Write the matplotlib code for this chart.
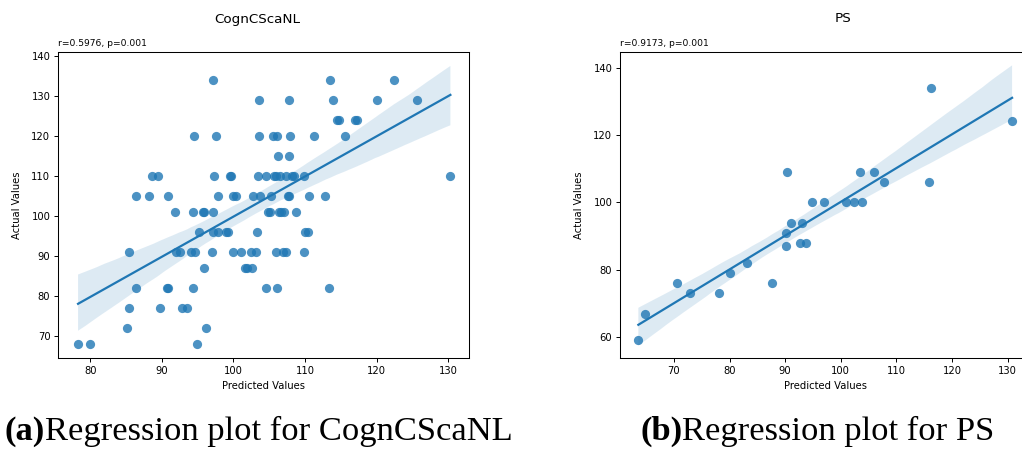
import numpy as np
import matplotlib.pyplot as plt
import seaborn as sns

# CognCScaNL: predicted vs actual scores (one line per actual-value level)
cogn_pred = [
    97.1, 113.5, 122.4,
    103.6, 107.8, 113.9, 120.1, 125.6,
    114.5, 114.8, 117.0, 117.2,
    94.5, 97.6, 103.6, 105.5, 106.1, 107.9, 111.2, 115.6,
    106.2, 107.8,
    88.6, 89.5, 97.3, 99.5, 99.7, 103.4, 104.6, 105.6, 105.9, 106.5, 107.4, 108.2, 108.5, 109.9, 130.3,
    86.4, 88.2, 90.9, 97.9, 99.9, 100.3, 102.7, 103.7, 105.3, 107.6, 107.7, 110.6, 112.8,
    91.8, 94.4, 95.7, 95.9, 97.2, 104.8, 105.1, 106.3, 106.7, 107.0, 108.8,
    95.2, 97.1, 97.8, 99.0, 99.2, 103.3, 110.0, 110.4,
    85.4, 92.0, 92.5, 94.1, 94.6, 97.0, 99.9, 101.0, 102.5, 103.1, 106.0, 106.9, 107.3, 109.9,
    95.9, 101.6, 101.9, 102.6,
    86.4, 90.7, 90.9, 94.4, 104.5, 106.1, 113.4,
    85.4, 89.7, 92.8, 93.5,
    85.1, 96.1,
    78.3, 79.9, 94.9,
]
cogn_actual = (
    [134] * 3 + [129] * 5 + [124] * 4 + [120] * 8 + [115] * 2 + [110] * 15
    + [105] * 13 + [101] * 11 + [96] * 8 + [91] * 14 + [87] * 4 + [82] * 7
    + [77] * 4 + [72] * 2 + [68] * 3
)
cogn_stats = "r=0.5976, p=0.001"

# PS: predicted vs actual scores
ps_pred = [116.2, 130.8, 90.4, 103.5, 105.9, 107.8, 115.8, 94.8, 96.9, 101.0,
           102.3, 103.9, 91.0, 93.1, 90.1, 90.2, 92.6, 93.7, 83.2, 80.1,
           87.7, 70.5, 72.9, 78.1, 64.8, 63.6]
ps_actual = [134, 124, 109, 109, 109, 106, 106, 100, 100, 100,
             100, 100, 94, 94, 91, 87, 88, 88, 82, 79,
             76, 76, 73, 73, 67, 59]
ps_stats = "r=0.9173, p=0.001"

W, H = 1022, 449
fig = plt.figure(figsize=(W / 100, H / 100), dpi=100)
ax1 = fig.add_axes([58 / W, 1 - 358 / H, 411 / W, 306 / H])
ax2 = fig.add_axes([620 / W, 1 - 358 / H, 411 / W, 306 / H])


def reg_panel(ax, x, y, stats, xlim, ylim):
    sns.regplot(x=np.array(x), y=np.array(y), ax=ax, seed=1,
                scatter_kws={'s': 44, 'linewidths': 0},
                line_kws={'lw': 1.6})
    ax.set_xlim(xlim)
    ax.set_ylim(ylim)
    ax.set_xlabel('Predicted Values', fontsize=7.2)
    ax.set_ylabel('Actual Values', fontsize=7.2)
    ax.xaxis.set_label_coords(0.5, -0.074)
    ax.yaxis.set_label_coords(-0.087, 0.5)
    ax.tick_params(labelsize=7.2, length=3, width=0.7, pad=2.5)
    for s in ax.spines.values():
        s.set_linewidth(0.75)
    ax.text(0, 1.013, stats, transform=ax.transAxes, fontsize=6.6, va='bottom')


reg_panel(ax1, cogn_pred, cogn_actual, cogn_stats, (75.5, 132.9), (64.4, 140.9))
reg_panel(ax2, ps_pred, ps_actual, ps_stats, (60.3, 134.2), (53.8, 144.6))
ax1.set_yticks(range(70, 141, 10))
ax2.set_yticks(range(60, 141, 20))

fig.text(257 / W, 1 - 19 / H, 'CognCScaNL', ha='center', va='center', fontsize=9.7)
fig.text(843 / W, 1 - 19 / H, 'PS', ha='center', va='center', fontsize=9.7)

# sub-captions under each panel
serif = 'Liberation Serif'
for x0, tag, rest in [(5, '(a)', 'Regression plot for CognCScaNL'),
                      (640, '(b)', 'Regression plot for PS')]:
    t = fig.text(x0 / W, 9 / H, tag, fontsize=24.8, family=serif,
                 fontweight='bold', va='baseline')
    plt.annotate(rest, xy=(1, 0), xycoords=t, fontsize=24.8, family=serif,
                 va='bottom', annotation_clip=False)

fig.savefig('out.png', dpi=100)
